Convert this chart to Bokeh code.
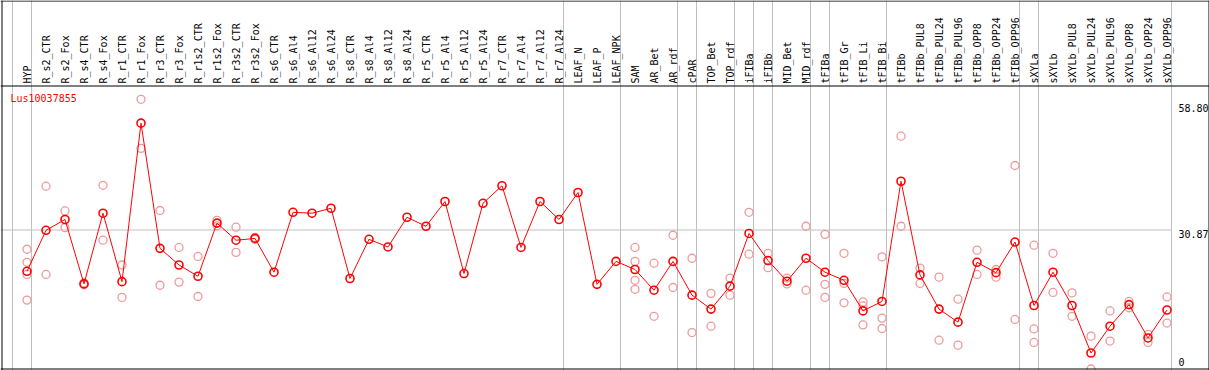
import math
from bokeh.plotting import figure
from bokeh.models import Range1d, Grid, FixedTicker, Span
from bokeh.core.properties import value
from bokeh.embed import file_html
from bokeh.resources import INLINE

# ---------------- data ----------------
gene = "Lus10037855"

categories = [
    "HYP", "R_s2_CTR", "R_s2_Fox", "R_s4_CTR", "R_s4_Fox", "R_r1_CTR", "R_r1_Fox",
    "R_r3_CTR", "R_r3_Fox", "R_r1s2_CTR", "R_r1s2_Fox", "R_r3s2_CTR", "R_r3s2_Fox",
    "R_s6_CTR", "R_s6_Al4", "R_s6_Al12", "R_s6_Al24", "R_s8_CTR", "R_s8_Al4",
    "R_s8_Al12", "R_s8_Al24", "R_r5_CTR", "R_r5_Al4", "R_r5_Al12", "R_r5_Al24",
    "R_r7_CTR", "R_r7_Al4", "R_r7_Al12", "R_r7_Al24", "LEAF_N", "LEAF_P", "LEAF_NPK",
    "SAM", "AR_Bet", "AR_rdf", "cPAR", "TOP_Bet", "TOP_rdf", "iFIBa", "iFIBb",
    "MID_Bet", "MID_rdf", "tFIBa", "tFIB_Gr", "tFIB_Li", "tFIB_Bi", "tFIBb",
    "tFIBb_PUL8", "tFIBb_PUL24", "tFIBb_PUL96", "tFIBb_OPP8", "tFIBb_OPP24",
    "tFIBb_OPP96", "sXYLa", "sXYLb", "sXYLb_PUL8", "sXYLb_PUL24", "sXYLb_PUL96",
    "sXYLb_OPP8", "sXYLb_OPP24", "sXYLb_OPP96",
]

means = [
    21.7, 30.8, 33.2, 18.9, 34.6, 19.4, 54.6, 26.8, 23.1, 20.6, 32.4, 28.6, 29.0,
    21.5, 34.8, 34.6, 35.7, 20.1, 28.8, 27.1, 33.7, 31.7, 37.2, 21.2, 36.8,
    40.7, 27.0, 37.2, 33.2, 39.2, 18.8, 23.9,
    22.1, 17.5, 23.9, 16.4, 13.3, 18.4, 30.1, 24.1, 19.5, 24.6, 21.5, 19.7, 12.9,
    15.0, 41.7, 20.9, 13.3, 10.4, 23.7, 21.4, 28.2, 14.1, 21.5, 14.1, 3.55, 9.5,
    14.3, 6.9, 13.1,
]

replicates = [
    [26.6, 23.7, 21.0, 15.3], [40.6, 21.0], [35.1, 31.4], [19.1, 18.7], [40.8, 28.6],
    [23.1, 15.9], [59.9, 49.0], [35.2, 18.6], [27.0, 19.3], [25.0, 16.1], [33.0, 31.8],
    [31.5, 25.9], [29.2, 28.8],
    [], [], [], [], [], [], [], [], [], [], [], [], [], [], [], [], [], [], [],
    [27.0, 23.9, 19.7, 17.7], [23.5, 11.7], [29.7, 18.1], [24.6, 8.1], [16.8, 9.5],
    [20.2, 16.4], [34.8, 25.5], [25.7, 22.5], [20.2, 18.9], [31.7, 17.5],
    [29.9, 18.8, 15.9], [25.7, 19.0, 14.7], [14.9, 14.0, 9.8], [24.9, 11.3, 9.0],
    [51.7, 31.7], [22.4, 19.0], [20.4, 6.4], [15.5, 5.3], [26.4, 21.0], [22.1, 20.4],
    [45.2, 11.0], [27.5, 8.9, 5.9], [25.7, 17.0], [16.9, 11.7], [7.3, 0.0],
    [12.9, 6.2], [15.0, 13.6], [7.7, 5.9], [16.0, 10.2],
]

# index of the last category of each sample group (-1 = left edge)
group_ends = [-1, 0, 28, 31, 34, 35, 37, 38, 39, 41, 42, 45, 52, 53, 60]

y_ticks = [0, 30.87, 58.80]
y_tick_labels = ["0", "30.87", "58.80"]

# ---------------- layout / style ----------------
W, H = 1209, 370
STEP = 19.0                 # px per category
FIRST = 26.5                # px of first category centre from left
KY = 139.0 / 30.87          # px per value unit
BOTTOM = 368.5              # px of value 0 from top
HEADER = 85.5               # px of header separator from top

x_start = -FIRST / STEP
x_end = x_start + W / STEP
y_start = -(H - BOTTOM) / KY
y_end = y_start + H / KY
header_base = (BOTTOM - HEADER) / KY
top_edge = (BOTTOM - 0.5) / KY

MONO = value("DejaVu Sans Mono")
RED = "#ff0000"
PINK = "#ee9a9a"
GRID = "#c0c0c0"

p = figure(width=W, height=H, output_backend="svg", toolbar_location=None,
           x_range=Range1d(x_start, x_end), y_range=Range1d(y_start, y_end),
           x_axis_type=None, y_axis_type=None, min_border=0,
           outline_line_color=None, background_fill_color="white",
           border_fill_color="white")

x_idx = list(range(len(categories)))
boundaries = [e + 4.0 / STEP for e in group_ends]

# vertical group separators (full height)
p.add_layout(Grid(dimension=0, ticker=FixedTicker(ticks=boundaries),
                  grid_line_color=GRID, grid_line_width=1))

# horizontal reference line at the middle tick
p.segment(x0=[x_start], x1=[boundaries[-1]], y0=[y_ticks[1]], y1=[y_ticks[1]],
          line_color=GRID, line_width=1)

# frame lines
for loc in (header_base, 0, top_edge):
    p.add_layout(Span(location=loc, dimension="width", line_color="black", line_width=1))
for loc in (x_start + 1.5 / STEP, x_start + (W - 0.5) / STEP):
    p.add_layout(Span(location=loc, dimension="height", line_color="black", line_width=1))

# replicate points
rep_x = [i for i, reps in enumerate(replicates) for _ in reps]
rep_y = [v for reps in replicates for v in reps]
p.scatter(rep_x, rep_y, marker="circle", size=8, fill_color=None,
          line_color=PINK, line_width=1.3)

# mean profile
p.line(x_idx, means, line_color=RED, line_width=1)
p.scatter(x_idx, means, marker="circle", size=8, fill_color=None,
          line_color=RED, line_width=1.6)

# category labels in the header
p.text(x=x_idx, y=[header_base] * len(categories), text=categories,
       angle=math.pi / 2, text_align="left", text_baseline="middle",
       y_offset=-2.5, text_font=MONO, text_font_size="10px", text_color="black")

# value labels on the right
ylab_x = len(categories) - 1 + 11.5 / STEP
p.text(x=[ylab_x] * 2, y=y_ticks[1:], text=y_tick_labels[1:],
       text_align="left", text_baseline="top", text_font=MONO,
       text_font_size="10px", text_color="black")
p.text(x=[ylab_x], y=y_ticks[:1], text=y_tick_labels[:1],
       text_align="left", text_baseline="bottom", y_offset=-3, text_font=MONO,
       text_font_size="10px", text_color="black")

# gene name
p.text(x=[x_start + 10 / STEP], y=[header_base], text=[gene],
       text_align="left", text_baseline="top", y_offset=7, text_font=MONO,
       text_font_size="10px", text_color=RED)

open("out.html", "w").write(file_html(p, INLINE))
